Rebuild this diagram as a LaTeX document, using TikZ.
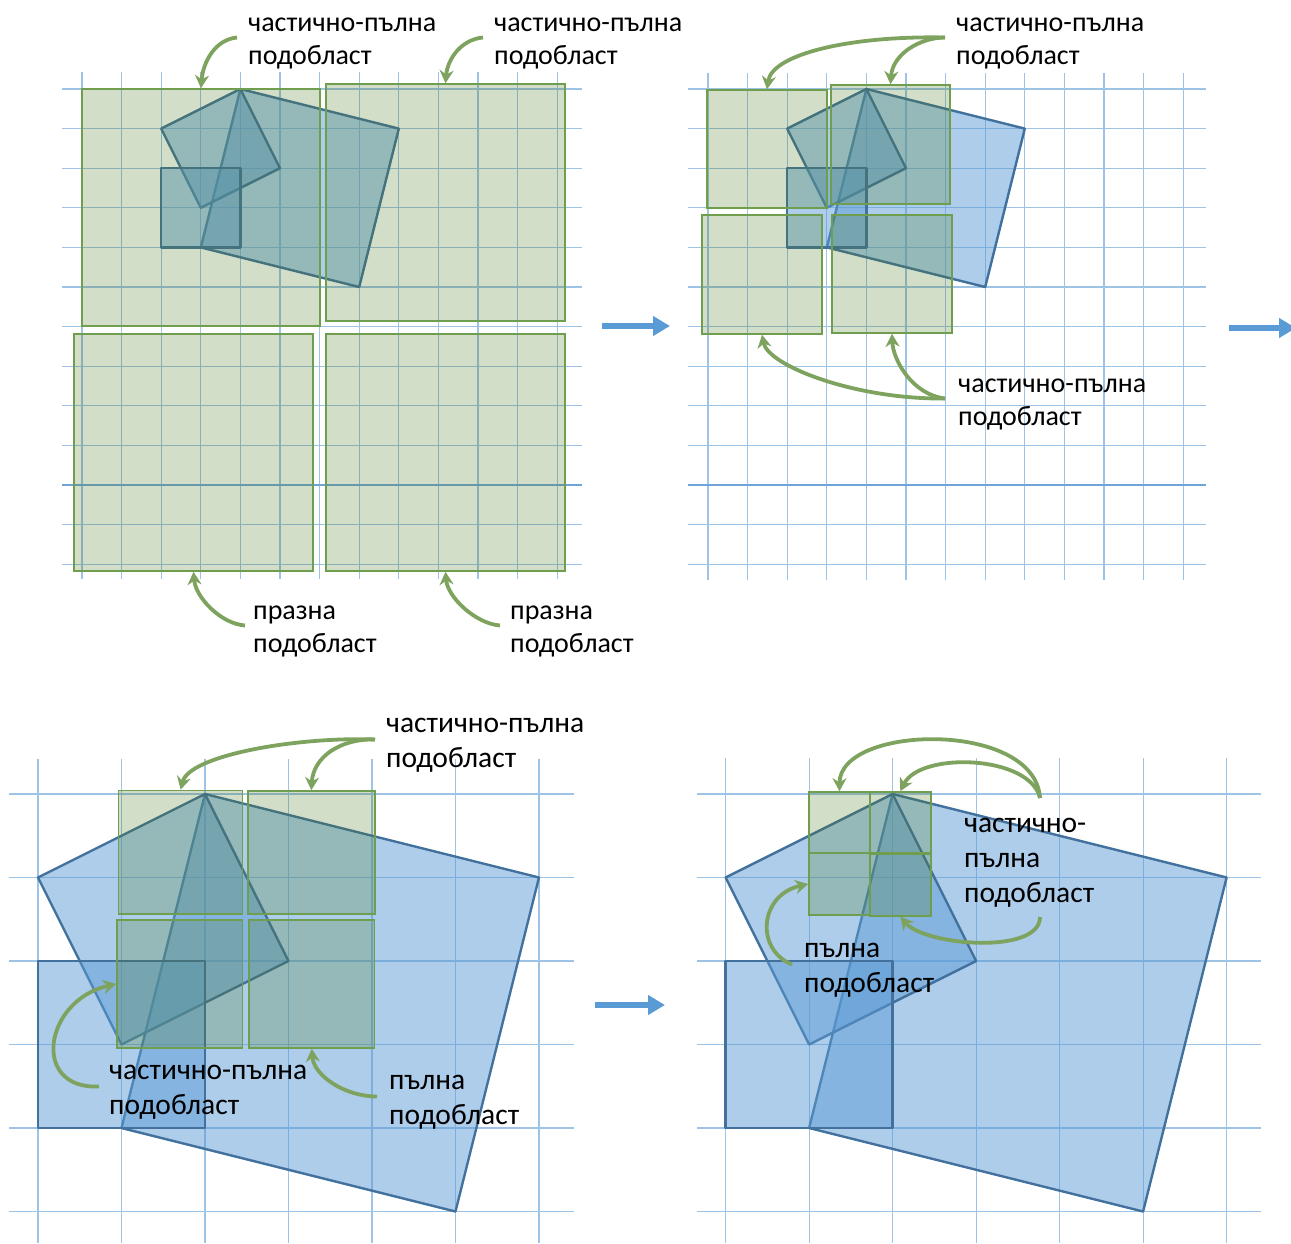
\documentclass[tikz,border=0pt]{standalone}
\usepackage{fontspec}
\setmainfont{Carlito}
\usetikzlibrary{arrows.meta,positioning}
\definecolor{gridblue}{HTML}{9DC3E6}
\definecolor{darkgrid}{HTML}{6FA3DA}
\definecolor{shapeblue}{HTML}{5B9BD5}
\definecolor{shapeedge}{HTML}{41719C}
\definecolor{boxfill}{HTML}{507C24}
\definecolor{boxedge}{HTML}{6F9E4F}
\definecolor{pointgreen}{HTML}{7EA35F}
\tikzstyle{gridline} = [gridblue, line width=1.2pt]
\tikzstyle{region} = [draw=shapeedge, fill=shapeblue, fill opacity=0.5,
    line width=2.4pt, line join=round]
\tikzstyle{subbox} = [draw=boxedge, fill=boxfill, fill opacity=0.25,
    line width=1.6pt, inner sep=0pt, rectangle]
\tikzstyle{note} = [align=left, inner sep=0pt, anchor=west,
    font=\fontsize{28}{33}\selectfont]
\tikzstyle{bignote} = [note, font=\fontsize{29.5}{35}\selectfont]
\tikzstyle{pointer} = [pointgreen, line width=3.8pt, -{Stealth[length=13pt, width=14pt]}]
\tikzstyle{flow} = [shapeblue, line width=6pt, -{Triangle[length=17pt, width=19pt]}]
\newcommand{\drawregions}{%
    \draw[region] (0,0) -- (4,1) -- (3,5) -- (-1,4) -- cycle;
    \draw[region] (0,0) -- (1,2) -- (-1,3) -- (-2,1) -- cycle;
    \draw[region] (-2,2) rectangle (0,4);
}
\begin{document}
\begin{tikzpicture}[x=1pt, y=-1pt]
    \useasboundingbox (0,0) rectangle (1291,1243);
    % grids
    \foreach \i in {0,...,12} {
        \draw[gridline] ({82+39.6*\i},72) -- ({82+39.6*\i},579);
        \draw[gridline] (62,{89+39.6*\i}) -- (582,{89+39.6*\i});
        \draw[gridline] ({708+39.6*\i},73) -- ({708+39.6*\i},580);
        \draw[gridline] (688,{89+39.6*\i}) -- (1206,{89+39.6*\i});
    }
    \draw[gridline, darkgrid] (62,485) -- (582,485);
    \draw[gridline, darkgrid] (688,485) -- (1206,485);
    \foreach \i in {0,...,6} {
        \draw[gridline] ({38+83.5*\i},759) -- ({38+83.5*\i},1243);
        \draw[gridline] ({725.6+83.5*\i},758) -- ({725.6+83.5*\i},1243);
    }
    \foreach \j in {0,...,5} {
        \draw[gridline] (9,{794+83.5*\j}) -- (574,{794+83.5*\j});
        \draw[gridline] (697,{794+83.5*\j}) -- (1261,{794+83.5*\j});
    }
    % shapes
    \begin{scope}[shift={(240.4,89)}, scale=39.6] \drawregions \end{scope}
    \begin{scope}[shift={(866.4,89)}, scale=39.6] \drawregions \end{scope}
    \begin{scope}[shift={(205,794)}, scale=83.5] \drawregions \end{scope}
    \begin{scope}[shift={(892.6,794)}, scale=83.5] \drawregions \end{scope}
    % subregions
    \node[subbox, minimum width=238pt, minimum height=237pt] (box11) at (201,207.5) {};
    \node[subbox, minimum width=239pt, minimum height=237pt] (box12) at (445.5,202.5) {};
    \node[subbox, minimum width=239pt, minimum height=237pt] (box13) at (193.5,452.5) {};
    \node[subbox, minimum width=239pt, minimum height=237pt] (box14) at (445.5,452.5) {};
    \node[subbox, minimum width=120pt, minimum height=118pt] (box21) at (767,149) {};
    \node[subbox, minimum width=119pt, minimum height=119pt] (box22) at (890.5,144.5) {};
    \node[subbox, minimum width=120pt, minimum height=119pt] (box23) at (762,274.5) {};
    \node[subbox, minimum width=120pt, minimum height=118pt] (box24) at (892,274) {};
    \node[subbox, minimum width=124pt, minimum height=123.5pt] (box31) at (180.6,852.2) {};
    \node[subbox, minimum width=127pt, minimum height=123pt] (box32) at (311.3,852.5) {};
    \node[subbox, minimum width=125.5pt, minimum height=128pt] (box33) at (179.8,984) {};
    \node[subbox, minimum width=125.7pt, minimum height=128pt] (box34) at (311.8,984) {};
    \node[subbox, minimum width=61pt, minimum height=61pt] (box41) at (839.5,822.5) {};
    \node[subbox, minimum width=61pt, minimum height=61pt] (box42) at (900.3,822.5) {};
    \node[subbox, minimum width=61pt, minimum height=62pt] (box43) at (839.5,884) {};
    \node[subbox, minimum width=61pt, minimum height=62pt] (box44) at (900.3,885) {};
    % steps
    \coordinate (go1) at (602,326);
    \coordinate (to1) at (670,326);
    \coordinate (go2) at (1229,328);
    \coordinate (to2) at (1296,328);
    \coordinate (go3) at (595,1005);
    \coordinate (to3) at (665,1005);
    \draw[flow] (go1) -- (to1);
    \draw[flow] (go2) -- (to2);
    \draw[flow] (go3) -- (to3);
    % labels
    \node[note] (note1) at (248,43.5) {частично-пълна\\подобласт};
    \node[note] (note2) at (494,43.5) {частично-пълна\\подобласт};
    \node[note] (note3) at (253,631.5) {празна\\подобласт};
    \node[note] (note4) at (510,631.5) {празна\\подобласт};
    \node[note] (note5) at (956,43.5) {частично-пълна\\подобласт};
    \node[note] (note6) at (958,404.5) {частично-пълна\\подобласт};
    \node[bignote] (note7) at (386,745.5) {частично-пълна\\подобласт};
    \node[bignote] (note8) at (109,1092.5) {частично-пълна\\подобласт};
    \node[bignote] (note9) at (389,1102.5) {пълна\\подобласт};
    \node[bignote] (note10) at (964,863) {частично-\\пълна\\подобласт};
    \node[bignote] (note11) at (804,970.5) {пълна\\подобласт};
    % pointers
    \draw[pointer] ([xshift=-11pt,yshift=6pt]note1.west) .. controls +(-22,2) and +(2,-26) .. (box11.north);
    \draw[pointer] ([xshift=-11pt,yshift=6pt]note2.west) .. controls +(-22,2) and +(2,-24) .. (box12.north);
    \draw[pointer] ([xshift=-8pt,yshift=6pt]note3.west) .. controls +(-25,-2) and +(2,25) .. (box13.south);
    \draw[pointer] ([xshift=-10pt,yshift=6pt]note4.west) .. controls +(-25,-2) and +(2,25) .. (box14.south);
    \draw[pointer] ([xshift=-11pt,yshift=6pt]note5.west) .. controls +(-95,-2) and +(5,-35) .. (box21.north);
    \draw[pointer] ([xshift=-11pt,yshift=6pt]note5.west) .. controls +(-25,0) and +(2,-30) .. (box22.north);
    \draw[pointer] ([xshift=-13pt,yshift=6pt]note6.west) .. controls +(-90,1) and +(6,31) .. (box23.south);
    \draw[pointer] ([xshift=-13pt,yshift=6pt]note6.west) .. controls +(-33,-4) and +(1,26) .. (box24.south);
    \draw[pointer] ([xshift=-11pt,yshift=6pt]note7.west) .. controls +(-75,-3) and +(9,-35) .. (box31.north);
    \draw[pointer] ([xshift=-11pt,yshift=6pt]note7.west) .. controls +(-35,-1) and +(2,-33) .. (box32.north);
    \draw[pointer] ([xshift=-10pt,yshift=6pt]note8.west) .. controls +(-69,3) and +(-72,16) .. (box33.west);
    \draw[pointer] ([xshift=-12pt,yshift=6pt]note9.west) .. controls +(-32,0) and +(2,27) .. (box34.south);
    \draw[pointer] ([xshift=76pt,yshift=65pt]note10.west) .. controls +(-5,-78) and +(0,-67) .. (box41.north);
    \draw[pointer] ([xshift=76pt,yshift=65pt]note10.west) .. controls +(-10,-43) and +(20,-40) .. (box42.north);
    \draw[pointer] ([xshift=76pt,yshift=-54pt]note10.west) .. controls +(0,38) and +(25,29) .. (box44.south);
    \draw[pointer] ([xshift=-12pt,yshift=6pt]note11.west) .. controls +(-37,-15) and +(-49,11) .. (box43.west);
\end{tikzpicture}
\end{document}
